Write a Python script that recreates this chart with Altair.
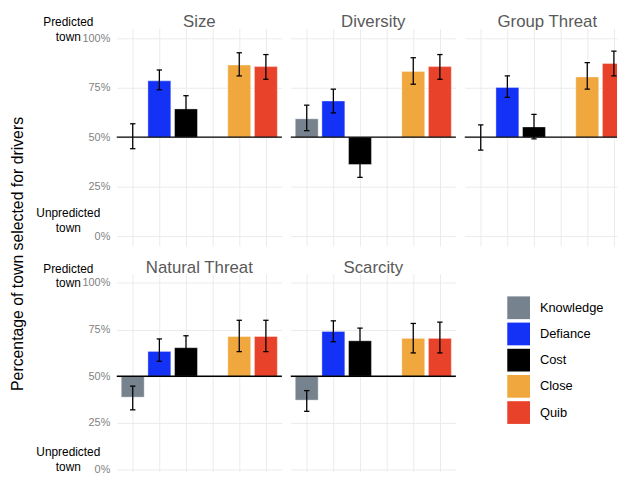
import altair as alt
import pandas as pd

panels = ["Size", "Diversity", "Group Threat", "Natural Threat", "Scarcity"]
categories = ["Knowledge", "Defiance", "Cost", "Close", "Quib"]
positions = [1, 2, 3, 5, 6]
colors = ["#77828F", "#1432F5", "#000000", "#F0A83E", "#E8432A"]

size_mean = [50.0, 78.5, 64.3, 86.5, 85.7]
size_low = [44.2, 74.0, 59.3, 81.0, 79.3]
size_high = [56.8, 84.0, 71.0, 92.7, 91.8]

diversity_mean = [59.3, 68.3, 36.2, 83.2, 85.7]
diversity_low = [53.3, 62.3, 29.7, 76.8, 79.3]
diversity_high = [66.2, 74.3, 42.7, 90.2, 91.8]

group_mean = [50.0, 75.2, 55.2, 80.5, 87.3]
group_low = [43.5, 70.2, 49.2, 74.3, 81.0]
group_high = [56.2, 81.0, 61.5, 87.7, 93.5]

natural_mean = [38.8, 63.3, 65.3, 71.3, 71.3]
natural_low = [32.0, 58.0, 60.8, 63.2, 63.2]
natural_high = [44.7, 70.0, 71.7, 80.0, 80.0]

scarcity_mean = [37.2, 74.0, 69.0, 70.3, 70.3]
scarcity_low = [31.2, 68.5, 63.3, 62.5, 62.5]
scarcity_high = [42.3, 79.7, 75.8, 78.3, 79.0]

y_ticks = [0, 25, 50, 75, 100]
x_grid = [1, 2, 3, 4, 5, 6]
top_label = ["Predicted", "town"]
bottom_label = ["Unpredicted", "town"]
y_title = "Percentage of town selected for drivers"

series = {
    "Size": (size_mean, size_low, size_high),
    "Diversity": (diversity_mean, diversity_low, diversity_high),
    "Group Threat": (group_mean, group_low, group_high),
    "Natural Threat": (natural_mean, natural_low, natural_high),
    "Scarcity": (scarcity_mean, scarcity_low, scarcity_high),
}

rows = []
for p in panels:
    m, lo, hi = series[p]
    for c, pos, mv, lv, hv in zip(categories, positions, m, lo, hi):
        rows.append({"panel": p, "category": c, "pos": pos, "mean": mv, "low": lv, "high": hv})
df = pd.DataFrame(rows)

FONT = "Liberation Sans"
GRID = "#EBEBEB"
W = 167
UNIT_X = W / 6.2

# row settings: (plot height, y-domain, label anchors)
ROWS = {
    0: dict(h=220, dom=[-5, 105], top=[108, 100.5], bot=[11.5, 4]),
    1: dict(h=200, dom=[-1, 105], top=[107.4, 100], bot=[9.5, 1.5]),
}


def make_panel(name, left, row, width=W):
    cfg = ROWS[row]
    xs = alt.Scale(domain=[0.4, 0.4 + width / UNIT_X], nice=False, zero=False)
    ys = alt.Scale(domain=cfg["dom"], nice=False, zero=False)
    clip = width < W
    x_axis = alt.Axis(values=x_grid, labels=False, ticks=False, domain=False, title=None,
                      grid=True, gridColor=GRID, gridWidth=1)
    if left:
        y_axis = alt.Axis(values=y_ticks, labelExpr="datum.value + '%'", ticks=False, domain=False,
                          title=None, grid=True, gridColor=GRID, gridWidth=1, labelPadding=7,
                          labelColor="#7F7F7F", labelFontSize=11, labelFont=FONT)
    else:
        y_axis = alt.Axis(values=y_ticks, labels=False, ticks=False, domain=False, title=None,
                          grid=True, gridColor=GRID, gridWidth=1)
    base = alt.Chart(df).transform_filter(alt.datum.panel == name)
    one = pd.DataFrame({"v": [0]})

    bars = base.transform_calculate(xa="datum.pos - 0.43", xb="datum.pos + 0.43").mark_bar(
        stroke="white", strokeWidth=0.6, strokeOpacity=0.6, clip=clip
    ).encode(
        x=alt.X("xa:Q", scale=xs, axis=x_axis),
        x2="xb:Q",
        y=alt.Y("mean:Q", scale=ys, axis=y_axis),
        y2=alt.datum(50),
        color=alt.Color(
            "category:N",
            scale=alt.Scale(domain=categories, range=colors),
            legend=alt.Legend(
                orient="none", legendX=395, legendY=271, title=None, symbolType="square",
                symbolSize=529, symbolStrokeWidth=0, labelFontSize=13, labelFont=FONT,
                labelColor="black", labelOffset=10, rowPadding=3.5, symbolOpacity=1,
            ),
        ),
    )
    baseline = alt.Chart(pd.DataFrame({"v": [50]})).mark_rule(color="black", strokeWidth=1.3).encode(
        y=alt.Y("v:Q", scale=ys, axis=y_axis)
    )
    err = base.mark_rule(color="black", strokeWidth=1.3, clip=clip).encode(
        x=alt.X("pos:Q", scale=xs, axis=x_axis),
        y=alt.Y("low:Q", scale=ys, axis=y_axis),
        y2="high:Q",
    )
    caps = base.transform_calculate(ca="datum.pos - 0.1", cb="datum.pos + 0.1")
    cap_lo = caps.mark_rule(color="black", strokeWidth=1.3, clip=clip).encode(
        x=alt.X("ca:Q", scale=xs, axis=x_axis), x2="cb:Q", y=alt.Y("low:Q", scale=ys, axis=y_axis)
    )
    cap_hi = caps.mark_rule(color="black", strokeWidth=1.3, clip=clip).encode(
        x=alt.X("ca:Q", scale=xs, axis=x_axis), x2="cb:Q", y=alt.Y("high:Q", scale=ys, axis=y_axis)
    )
    title = alt.Chart(one).mark_text(
        align="center", baseline="alphabetic", fontSize=17, font=FONT, color="#595959"
    ).encode(x=alt.value(W / 2), y=alt.value(-1), text=alt.value(name))
    layers = [bars, baseline, err, cap_lo, cap_hi, title]
    if left:
        for words, anchors in ((top_label, cfg["top"]), (bottom_label, cfg["bot"])):
            for word, a in zip(words, anchors):
                layers.append(
                    alt.Chart(one).mark_text(
                        align="center", baseline="middle", fontSize=12, font=FONT, color="black"
                    ).encode(x=alt.value(-49), y=alt.Y(datum=a, scale=ys, axis=y_axis),
                             text=alt.value(word))
                )
    return alt.layer(*layers).properties(width=width, height=cfg["h"])


row1 = alt.hconcat(make_panel("Size", True, 0), make_panel("Diversity", False, 0),
                   make_panel("Group Threat", False, 0, width=154), spacing=7)
row2 = alt.hconcat(make_panel("Natural Threat", True, 1), make_panel("Scarcity", False, 1), spacing=7)

chart = alt.vconcat(row1, row2, spacing=13).properties(
    title=alt.TitleParams(text=y_title, orient="left", anchor="middle", fontSize=16, font=FONT,
                          color="black", fontWeight="normal", offset=10, dx=-10),
    padding={"left": 2, "top": 3, "right": 0, "bottom": 0},
).configure(font=FONT).configure_view(stroke=None)

chart.save("out.html", embed_options={"renderer": "svg", "actions": False})
